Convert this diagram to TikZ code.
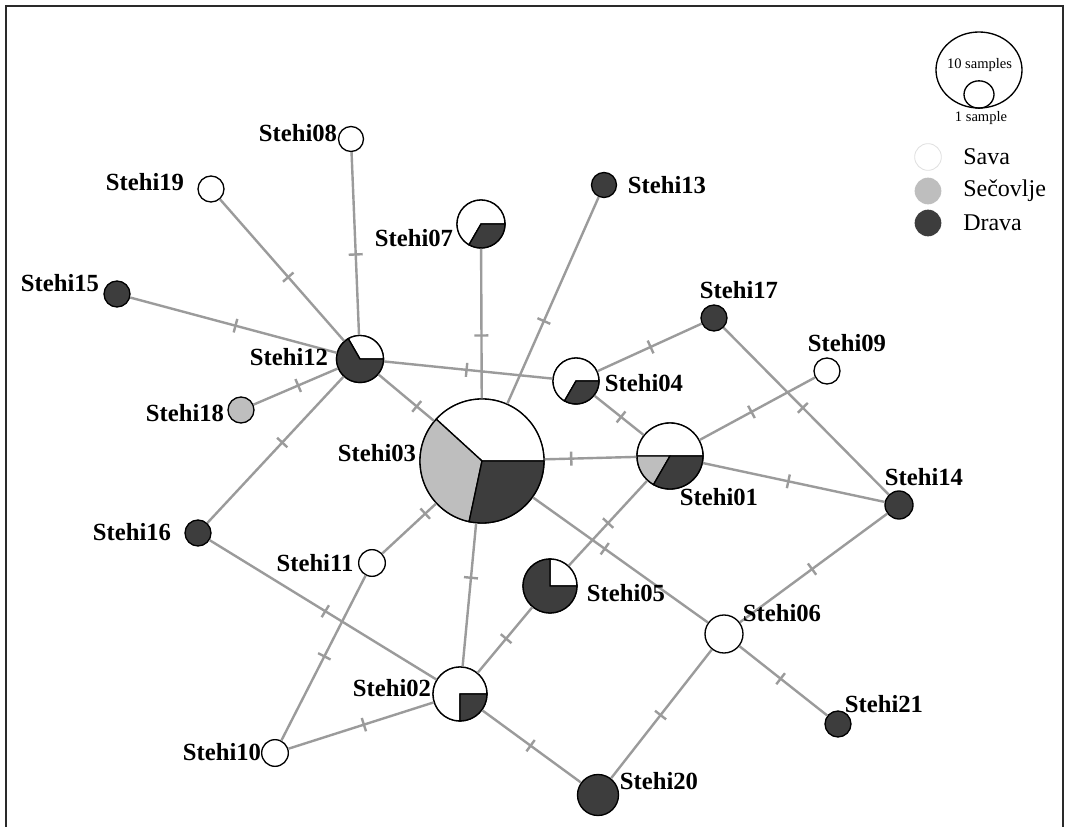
\documentclass[tikz,border=0pt]{standalone}
\usepackage{fontspec}
\setmainfont{Liberation Serif}
\usetikzlibrary{decorations.markings,shapes.geometric}

\definecolor{drava}{HTML}{3D3D3D}
\definecolor{secovlje}{HTML}{BEBEBE}
\definecolor{linkgray}{HTML}{9B9B9B}
\definecolor{framegray}{HTML}{2A2A2A}

% one sector of a haplotype pie: node, radius, start angle, end angle, colour
\newcommand\pieslice[5]{%
  \filldraw[fill=#5, draw=black, line width=1pt]
    (#1.center) -- ++(#3:#2) arc[start angle=#3, end angle=#4, radius=#2] -- cycle;}

\tikzset{
  hap/.style={circle, draw=black, line width=1pt, inner sep=0pt, fill=white, minimum size=#1},
  sava/.style={hap=#1, fill=white},
  drv/.style={hap=#1, fill=drava},
  sec/.style={hap=#1, fill=secovlje},
  link/.style={draw=linkgray, line width=1.8pt},
  mut/.style={postaction={decorate, decoration={markings,
      mark=at position #1 with {\draw[linkgray, line width=1.8pt] (0,-7) -- (0,7);}}}},
  lab/.style={font=\fontsize{18.5}{20}\selectfont\bfseries, inner sep=0pt},
  legtext/.style={font=\fontsize{18}{20}\selectfont, inner sep=0pt, anchor=west},
  sizetext/.style={font=\fontsize{10.9}{12}\selectfont, inner sep=0pt},
}

\begin{document}
\begin{tikzpicture}[x=0.75pt, y=0.75pt]
\useasboundingbox (0,0) rectangle (1065,-827);
\fill[white] (0,0) rectangle (1065,-827);

% frame
\draw[framegray, line width=1.6pt] (6,-830) -- (6,-6) -- (1063,-6) -- (1063,-830);

% haplotypes
\node[hap=93pt]     (s03) at (482,-461) {};
\node[hap=35.25pt]  (s12) at (360,-359) {};
\node[hap=36pt]     (s07) at (481,-224) {};
\node[hap=34.5pt]   (s04) at (576,-381) {};
\node[hap=49.5pt]   (s01) at (670,-456) {};
\node[hap=40.5pt]   (s02) at (460,-694) {};
\node[hap=40.5pt]   (s05) at (550,-586) {};
\node[sava=18.75pt] (s08) at (351,-139) {};
\node[sava=19.5pt]  (s19) at (211,-189) {};
\node[drv=18.75pt]  (s13) at (604,-185) {};
\node[drv=19.5pt]   (s15) at (117,-294) {};
\node[drv=19.5pt]   (s17) at (714,-318) {};
\node[sava=19.5pt]  (s09) at (827,-371) {};
\node[sec=19.5pt]   (s18) at (241,-410) {};
\node[drv=21pt]     (s14) at (899,-505) {};
\node[drv=19.5pt]   (s16) at (198,-533) {};
\node[sava=20pt]    (s11) at (372,-563) {};
\node[sava=28.5pt]  (s06) at (724,-634) {};
\node[drv=19.5pt]   (s21) at (838,-724) {};
\node[sava=20pt]    (s10) at (275,-753) {};
\node[drv=30.75pt]  (s20) at (598,-795) {};

% pie sectors
\pieslice{s03}{62}{0}{137.6}{white}
\pieslice{s03}{62}{137.6}{258}{secovlje}
\pieslice{s03}{62}{258}{360}{drava}
\pieslice{s12}{23.5}{0}{120}{white}
\pieslice{s12}{23.5}{120}{360}{drava}
\pieslice{s07}{24}{0}{240}{white}
\pieslice{s07}{24}{240}{360}{drava}
\pieslice{s04}{23}{0}{240}{white}
\pieslice{s04}{23}{240}{360}{drava}
\pieslice{s01}{33}{0}{180}{white}
\pieslice{s01}{33}{180}{240}{secovlje}
\pieslice{s01}{33}{240}{360}{drava}
\pieslice{s02}{27}{0}{270}{white}
\pieslice{s02}{27}{270}{360}{drava}
\pieslice{s05}{27}{0}{90}{white}
\pieslice{s05}{27}{90}{360}{drava}

% mutational links
\path[link, mut=0.58] (s07) -- (s03);
\path[link, mut=0.60] (s13) -- (s03);
\path[link, mut=0.29] (s03) -- (s01);
\path[link, mut=0.80] (s11) -- (s03);
\path[link, mut=0.62] (s02) -- (s03);
\path[link, mut=0.41] (s03) -- (s06);
\path[link, mut=0.69] (s12) -- (s03);
\path[link, mut=0.56] (s08) -- (s12);
\path[link, mut=0.55] (s19) -- (s12);
\path[link, mut=0.51] (s15) -- (s12);
\path[link, mut=0.53] (s18) -- (s12);
\path[link, mut=0.49] (s12) -- (s04);
\path[link, mut=0.55] (s16) -- (s12);
\path[link, mut=0.51] (s04) -- (s17);
\path[link, mut=0.54] (s04) -- (s01);
\path[link, mut=0.45] (s01) -- (s09);
\path[link, mut=0.47] (s01) -- (s14);
\path[link, mut=0.48] (s17) -- (s14);
\path[link, mut=0.51] (s14) -- (s06);
\path[link, mut=0.50] (s01) -- (s05);
\path[link, mut=0.48] (s05) -- (s02);
\path[link, mut=0.51] (s16) -- (s02);
\path[link, mut=0.52] (s10) -- (s02);
\path[link, mut=0.49] (s02) -- (s20);
\path[link, mut=0.49] (s11) -- (s10);
\path[link, mut=0.51] (s06) -- (s20);
\path[link, mut=0.47] (s06) -- (s21);

% haplotype names
\node[lab] (l08) at (298,-133) {Stehi08};
\node[lab] (l19) at (145,-182) {Stehi19};
\node[lab] (l13) at (667,-185) {Stehi13};
\node[lab] (l15) at (60,-283)  {Stehi15};
\node[lab] (l17) at (739,-290) {Stehi17};
\node[lab] (l09) at (847,-343) {Stehi09};
\node[lab] (l07) at (414,-238) {Stehi07};
\node[lab] (l12) at (289,-357) {Stehi12};
\node[lab] (l04) at (644,-383) {Stehi04};
\node[lab] (l18) at (185,-413) {Stehi18};
\node[lab] (l03) at (377,-453) {Stehi03};
\node[lab] (l01) at (719,-497) {Stehi01};
\node[lab] (l14) at (924,-477) {Stehi14};
\node[lab] (l16) at (132,-532) {Stehi16};
\node[lab] (l11) at (315,-563) {Stehi11};
\node[lab] (l05) at (626,-593) {Stehi05};
\node[lab] (l06) at (782,-613) {Stehi06};
\node[lab] (l02) at (392,-688) {Stehi02};
\node[lab] (l21) at (884,-704) {Stehi21};
\node[lab] (l10) at (222,-752) {Stehi10};
\node[lab] (l20) at (659,-781) {Stehi20};

% size legend
\node[ellipse, draw=black, line width=1pt, inner sep=0pt,
      minimum width=64.5pt, minimum height=57pt] (big) at (979,-70) {};
\node[ellipse, draw=black, line width=1pt, inner sep=0pt,
      minimum width=22.5pt, minimum height=20.5pt] (small) at (979,-94.5) {};
\node[sizetext] (t10) at (979.5,-65) {10 samples};
\node[sizetext] (t1)  at (981,-118) {1 sample};

% colour legend
\node[circle, draw=black!12, line width=0.6pt, fill=white, inner sep=0pt, minimum size=20pt] (kSava) at (928,-157) {};
\node[circle, fill=secovlje, inner sep=0pt, minimum size=20pt] (kSec) at (928,-191) {};
\node[circle, fill=drava, inner sep=0pt, minimum size=20pt] (kDrava) at (928,-223) {};
\node[legtext] (tSava)  at (963,-157) {Sava};
\node[legtext] (tSec)   at (963,-191) {Sečovlje};
\node[legtext] (tDrava) at (963,-223) {Drava};
\end{tikzpicture}
\end{document}
